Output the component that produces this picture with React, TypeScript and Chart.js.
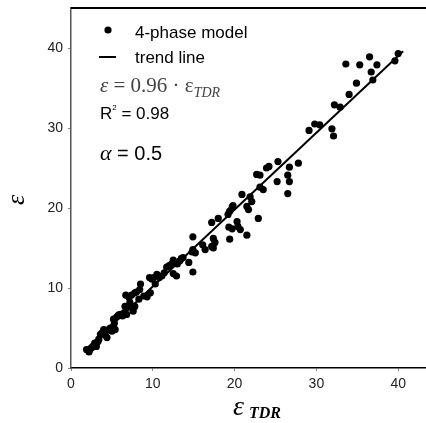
import React, { useEffect, useRef } from "react";
import { Chart, registerables } from "chart.js";

Chart.register(...registerables);

const xTicks = [0, 10, 20, 30, 40];
const yTicks = [0, 10, 20, 30, 40];

const measuredX = [
  40.0, 39.6, 37.4, 36.5, 36.7, 36.9, 35.3, 34.9, 33.6, 34.0, 32.2, 32.9, 31.9, 32.1, 29.8, 29.1, 30.4,
  27.8, 26.7, 26.5, 26.7, 26.5, 25.3, 25.2, 24.2, 23.9, 22.7, 23.1, 23.1, 23.5, 22.9,
  20.9, 21.9, 22.1, 21.5, 21.7, 19.7, 19.4, 19.2, 19.8, 20.3, 20.4, 20.7, 19.3, 19.7, 19.4, 21.5,
  18.0, 17.2, 14.9, 17.4, 17.6, 17.2, 17.4, 16.1, 16.4, 14.9, 15.2, 14.8, 13.7, 14.9,
  14.4, 13.3, 12.5, 12.0, 12.9, 12.5, 11.7, 10.8, 10.5, 10.1, 9.6, 10.3, 9.7, 9.3, 8.5, 8.4,
  7.8, 7.4, 6.7, 6.6, 7.2, 7.8, 7.6, 6.8, 6.0, 5.6, 5.2, 5.2, 5.0, 5.4, 4.6, 4.0, 4.4, 3.6,
  3.3, 3.1, 2.7, 2.3, 1.9, 2.9,
  2.2, 2.5, 3.4, 3.8, 4.2, 4.8, 5.3, 5.8, 6.3, 6.5, 7.0, 7.1, 8.0, 8.3, 8.9, 9.9, 11.1, 11.4,
  12.3, 13.0, 13.5,
];
const measuredY = [
  39.3, 38.4, 37.9, 38.9, 37.0, 36.0, 37.9, 35.6, 38.0, 34.2, 32.9, 32.6, 29.9, 29.0, 30.5, 29.7, 30.4,
  25.6, 25.1, 24.1, 23.3, 21.8, 25.8, 23.3, 25.2, 25.0, 24.2, 24.1, 22.6, 22.3, 18.7,
  21.7, 21.4, 20.8, 20.2, 19.8, 20.1, 19.6, 19.2, 20.3, 18.3, 17.7, 17.3, 17.6, 17.4, 16.1, 16.6,
  18.7, 18.2, 16.4, 16.2, 15.7, 15.2, 15.0, 15.4, 14.8, 14.8, 14.4, 14.5, 13.8, 12.0,
  13.2, 13.4, 13.5, 12.8, 11.5, 11.8, 12.6, 11.3, 11.7, 11.3, 11.3, 10.5, 9.4, 8.9, 10.5, 9.8,
  9.4, 9.1, 9.1, 7.7, 8.2, 7.7, 7.1, 6.7, 6.7, 6.4, 6.1, 5.2, 4.6, 4.8, 4.8, 4.8, 3.8, 4.2,
  3.3, 2.7, 2.7, 2.3, 2.3, 3.1,
  2.0, 2.5, 3.6, 4.4, 4.1, 5.0, 5.6, 6.6, 6.5, 6.9, 7.6, 8.8, 9.5, 8.6, 9.0, 11.1, 11.5, 11.9,
  13.0, 13.0, 13.7,
];

const trendX = [2.0, 40.6];
const trendY = [2.5, 39.6];

const annotationPlugin = {
  id: "annotations",
  afterDraw(chart: any) {
    const ctx = chart.ctx as CanvasRenderingContext2D;
    const ca = chart.chartArea;
    ctx.save();
    // top frame line
    ctx.strokeStyle = "#000";
    ctx.lineWidth = 2;
    ctx.beginPath();
    ctx.moveTo(ca.left, ca.top);
    ctx.lineTo(chart.width, ca.top);
    ctx.stroke();

    // legend
    ctx.fillStyle = "#000";
    ctx.beginPath();
    ctx.arc(108, 30, 3.6, 0, Math.PI * 2);
    ctx.fill();
    ctx.lineWidth = 2;
    ctx.beginPath();
    ctx.moveTo(99, 57);
    ctx.lineTo(116, 57);
    ctx.stroke();
    ctx.font = '17px Arial, "Liberation Sans", sans-serif';
    ctx.textBaseline = "middle";
    ctx.textAlign = "left";
    ctx.fillText("4-phase model", 135, 33);
    ctx.fillText("trend line", 135, 58);

    // equation
    ctx.fillStyle = "#444";
    ctx.textBaseline = "alphabetic";
    let x = 100;
    const base = 92;
    ctx.font = 'italic 21px "Times New Roman", "Liberation Serif", serif';
    ctx.fillText("ε", x, base);
    x += ctx.measureText("ε").width;
    ctx.font = '21px "Times New Roman", "Liberation Serif", serif';
    const mid = " = 0.96 · ε";
    ctx.fillText(mid, x, base);
    x += ctx.measureText(mid).width;
    ctx.font = 'italic 14px "Times New Roman", "Liberation Serif", serif';
    ctx.fillText("TDR", x, base + 5);

    // R^2
    ctx.fillStyle = "#000";
    ctx.font = '17px Arial, "Liberation Sans", sans-serif';
    ctx.fillText("R", 100, 119);
    let rx = 100 + ctx.measureText("R").width;
    ctx.font = '8px Arial, "Liberation Sans", sans-serif';
    ctx.fillText("2", rx, 110);
    rx += ctx.measureText("2").width;
    ctx.font = '17px Arial, "Liberation Sans", sans-serif';
    ctx.fillText(" = 0.98", rx, 119);

    // alpha
    ctx.font = 'italic 22px "Times New Roman", "Liberation Serif", serif';
    ctx.fillText("α", 100, 160);
    const ax = 100 + ctx.measureText("α").width;
    ctx.font = '20px Arial, "Liberation Sans", sans-serif';
    ctx.fillText(" = 0.5", ax, 160);

    // y title
    ctx.save();
    ctx.translate(24, 200);
    ctx.rotate(-Math.PI / 2);
    ctx.textAlign = "center";
    ctx.font = 'italic 26px "Times New Roman", "Liberation Serif", serif';
    ctx.fillText("ε", 0, 0);
    ctx.restore();

    // x title
    ctx.font = 'italic 28px "Times New Roman", "Liberation Serif", serif';
    ctx.fillText("ε", 233, 415);
    const ex = 233 + ctx.measureText("ε").width + 5;
    ctx.font = 'italic bold 16px "Times New Roman", "Liberation Serif", serif';
    ctx.fillText("TDR", ex, 418);

    ctx.restore();
  },
};

export default function App() {
  const ref = useRef<HTMLCanvasElement | null>(null);
  useEffect(() => {
    document.body.style.margin = "0";
    document.body.style.overflow = "hidden";
    const canvas = ref.current;
    if (!canvas) return;
    const points = measuredX.map((v, i) => ({ x: v, y: measuredY[i] }));
    const trend = trendX.map((v, i) => ({ x: v, y: trendY[i] }));
    const chart = new Chart(canvas, {
      type: "scatter",
      data: {
        datasets: [
          {
            label: "trend line",
            data: trend,
            showLine: true,
            borderColor: "#000",
            borderWidth: 2,
            pointRadius: 0,
            order: 2,
          },
          {
            label: "4-phase model",
            data: points,
            backgroundColor: "#000",
            borderWidth: 0,
            pointRadius: 3.6,
            order: 1,
          },
        ],
      },
      options: {
        responsive: false,
        animation: false,
        layout: { autoPadding: false, padding: { top: 8, right: 0, left: 0, bottom: 0 } },
        plugins: { legend: { display: false }, tooltip: { enabled: false } },
        scales: {
          x: {
            type: "linear",
            min: 0,
            max: 43.4,
            afterBuildTicks: (s: any) => {
              s.ticks = xTicks.map((v) => ({ value: v }));
            },
            afterFit: (s: any) => {
              s.height = 55;
              s.paddingRight = 0;
              s.paddingLeft = 0;
            },
            grid: { display: true, drawOnChartArea: false, drawTicks: true, tickLength: 3, color: "#888" },
            border: { display: true, color: "#000", width: 1.5 },
            ticks: {
              padding: 5,
              color: "#222",
              font: { family: 'Arial, "Liberation Sans", sans-serif', size: 14 },
            },
          },
          y: {
            type: "linear",
            min: 0,
            max: 45,
            afterBuildTicks: (s: any) => {
              s.ticks = yTicks.map((v) => ({ value: v }));
            },
            afterFit: (s: any) => {
              s.width = 71;
              s.paddingTop = 0;
              s.paddingBottom = 0;
            },
            grid: { display: true, drawOnChartArea: false, drawTicks: true, tickLength: 3, color: "#888" },
            border: { display: true, color: "#555", width: 1.5 },
            ticks: {
              padding: 5,
              color: "#222",
              font: { family: 'Arial, "Liberation Sans", sans-serif', size: 14 },
            },
          },
        },
      },
      plugins: [annotationPlugin],
    });
    return () => chart.destroy();
  }, []);
  return <canvas ref={ref} width={426} height={423} style={{ display: "block" }} />;
}
